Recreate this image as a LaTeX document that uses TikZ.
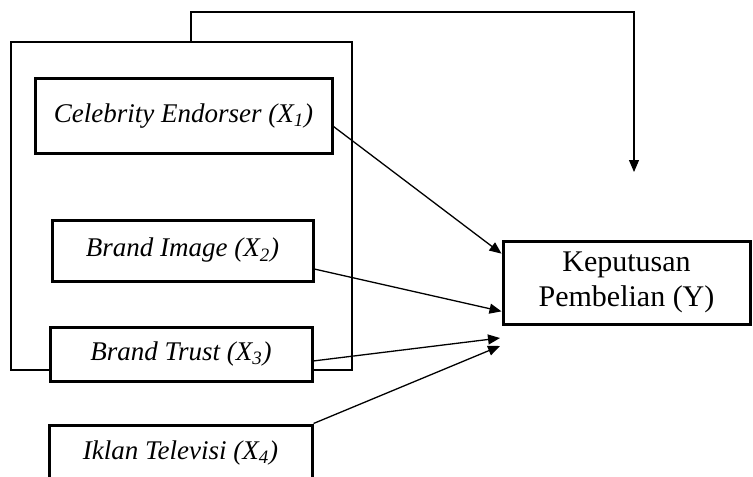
\documentclass[tikz,border=0pt]{standalone}
\usepackage{fontspec}
\setmainfont{Liberation Serif}
\usetikzlibrary{calc,arrows.meta}
\tikzstyle{var}=[shape=rectangle, draw, line width=1.5pt, fill=white, inner sep=0, font=\fontsize{13.5}{16}\selectfont\itshape]
\tikzstyle{dep}=[shape=rectangle, draw, line width=1.5pt, fill=white, inner sep=0, align=center, font=\fontsize{15}{17.5}\selectfont]
\tikzstyle{grp}=[shape=rectangle, draw, line width=0.9pt, inner sep=0]
\tikzstyle{arr}=[line width=0.65pt, -{Triangle[length=6pt,width=5pt]}]

\begin{document}
\begin{tikzpicture}[x=0.5pt,y=-0.5pt]
\useasboundingbox (0,0) rectangle (753,476);
\draw (181.5,206) node[grp, minimum width=170.5pt, minimum height=164pt](g) {};
\draw (183.5,116) node[var, minimum width=148.5pt, minimum height=37pt](x1) {Celebrity Endorser (X\textsubscript{1})};
\draw (182.5,250.5) node[var, minimum width=130.5pt, minimum height=30.5pt](x2) {Brand Image (X\textsubscript{2})};
\draw (181,354) node[var, minimum width=131pt, minimum height=27pt](x3) {Brand Trust (X\textsubscript{3})};
\draw (180.5,453) node[var, minimum width=131.5pt, minimum height=28pt](x4) {Iklan Televisi (X\textsubscript{4})};
\draw (626.5,282.5) node[dep, minimum width=123.5pt, minimum height=41.5pt](y) {Keputusan\\Pembelian (Y)};
\coordinate (t3) at (500,338);
\coordinate (t4) at (500,346);
\coordinate (top) at (634,172);
\foreach \a/\b in {x1.-4/y.167, x2.-8/y.193, x3.-3.5/t3, x4.north east/t4}
	{\draw[arr] (\a)--(\b);}
\draw[arr, line width=0.6pt] ($(g.north)+(9.5,0)$)--($(g.north)+(9.5,-29)$)-|(top);
\end{tikzpicture}
\end{document}
